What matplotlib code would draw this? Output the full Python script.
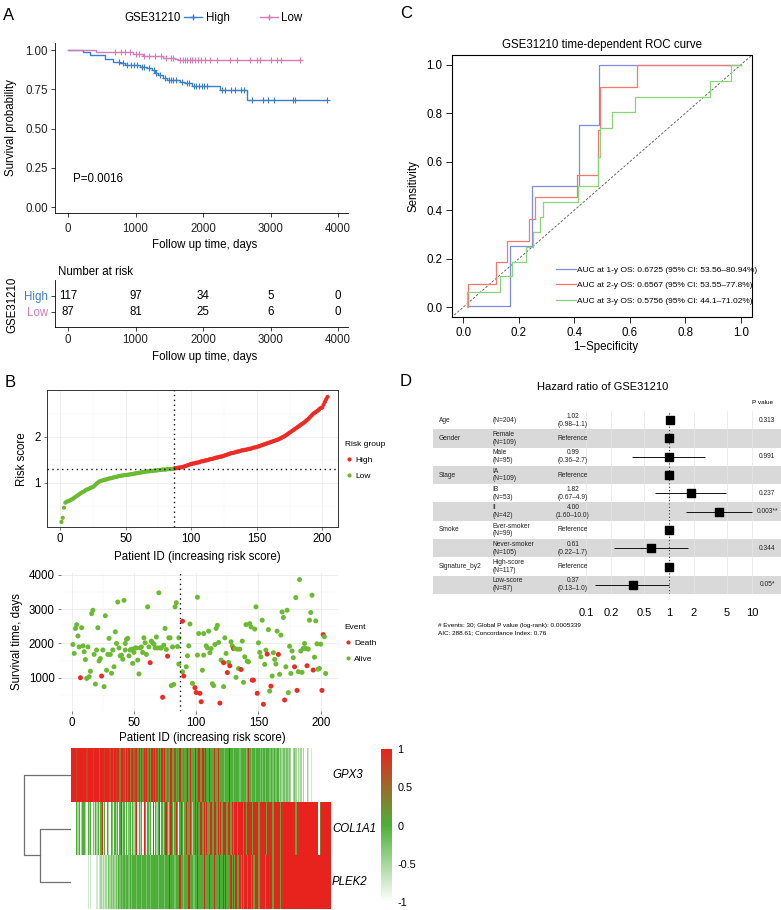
import numpy as np
import matplotlib
matplotlib.use('Agg')
import matplotlib.pyplot as plt
from matplotlib.colors import LinearSegmentedColormap
from matplotlib.lines import Line2D

plt.rcParams['font.family'] = ['Liberation Sans', 'DejaVu Sans']

W, H = 781, 910

# ---------------- A: Kaplan-Meier, GSE31210 ----------------
km_high_t = [0, 220, 320, 545, 670, 765, 840, 1065, 1165, 1240, 1290, 1340, 1410, 1460, 1660, 1735, 1830, 2250, 2650]
km_high_s = [1.0, 0.985, 0.968, 0.94, 0.926, 0.915, 0.904, 0.894, 0.883, 0.872, 0.855, 0.84, 0.823, 0.809, 0.798, 0.787, 0.77, 0.745, 0.685]
km_high_end = 3840
km_high_cens = [760, 820, 880, 940, 980, 1020, 1100, 1130, 1200, 1270, 1310, 1370, 1440, 1500, 1530, 1560, 1600, 1690,
                1760, 1790, 1860, 1900, 1940, 1980, 2020, 2060, 2280, 2330, 2410, 2470, 2560, 2600, 2720, 2890, 2970,
                3050, 3330, 3370, 3840]
km_low_t = [0, 420, 965, 1115, 1410, 1585, 1635]
km_low_s = [1.0, 0.985, 0.972, 0.962, 0.951, 0.94, 0.934]
km_low_end = 3450
km_low_cens = [700, 780, 850, 920, 1000, 1050, 1130, 1200, 1290, 1380, 1450, 1520, 1560, 1660, 1700, 1730, 1770, 1800,
               1840, 1880, 1930, 1970, 2030, 2100, 2200, 2400, 2500, 2700, 2800, 2850, 3000, 3100, 3150, 3440]
risk_times = [0, 1000, 2000, 3000, 4000]
risk_high = [117, 97, 34, 5, 0]
risk_low = [87, 81, 25, 6, 0]

# ---------------- B: risk score / survival / heatmap ----------------
risk_score = [0.15, 0.24, 0.46, 0.57, 0.59, 0.60, 0.61, 0.63, 0.64, 0.66,
              0.68, 0.70, 0.72, 0.74, 0.76, 0.78, 0.80, 0.81, 0.83, 0.85,
              0.86, 0.87, 0.89, 0.90, 0.91, 0.93, 0.96, 0.99, 1.01, 1.03,
              1.04, 1.05, 1.06, 1.07, 1.07, 1.08, 1.09, 1.10, 1.10, 1.11,
              1.12, 1.13, 1.13, 1.14, 1.15, 1.15, 1.16, 1.16, 1.17, 1.17,
              1.17, 1.18, 1.18, 1.19, 1.19, 1.20, 1.20, 1.21, 1.21, 1.22,
              1.22, 1.23, 1.23, 1.24, 1.24, 1.25, 1.25, 1.25, 1.26, 1.26,
              1.26, 1.27, 1.27, 1.27, 1.28, 1.28, 1.28, 1.29, 1.29, 1.29,
              1.29, 1.30, 1.30, 1.30, 1.30, 1.31, 1.31,
              1.32, 1.32, 1.33, 1.33, 1.34, 1.34, 1.35, 1.36, 1.37, 1.38,
              1.39, 1.40, 1.41, 1.42, 1.42, 1.43, 1.44, 1.44, 1.45, 1.46,
              1.47, 1.47, 1.48, 1.49, 1.49, 1.50, 1.51, 1.52, 1.52, 1.53,
              1.54, 1.55, 1.55, 1.56, 1.57, 1.57, 1.58, 1.59, 1.60, 1.61,
              1.62, 1.63, 1.64, 1.65, 1.65, 1.66, 1.67, 1.68, 1.68, 1.69,
              1.70, 1.71, 1.71, 1.72, 1.72, 1.73, 1.74, 1.74, 1.75, 1.76,
              1.77, 1.77, 1.78, 1.79, 1.80, 1.81, 1.82, 1.83, 1.84, 1.85,
              1.86, 1.87, 1.88, 1.89, 1.90, 1.91, 1.92, 1.93, 1.94, 1.95,
              1.97, 1.98, 2.00, 2.01, 2.03, 2.05, 2.07, 2.09, 2.11, 2.13,
              2.15, 2.17, 2.19, 2.21, 2.23, 2.25, 2.27, 2.29, 2.31, 2.33,
              2.36, 2.38, 2.41, 2.44, 2.47, 2.50, 2.52, 2.54, 2.56, 2.58,
              2.61, 2.63, 2.64, 2.70, 2.76, 2.82, 2.87]
n_low = 87

surv_id = [1, 2, 3, 4, 5, 6, 7, 8, 9, 10,
           11, 12, 13, 14, 15, 16, 17, 18, 19, 20,
           21, 22, 23, 24, 25, 26, 27, 28, 29, 30,
           31, 32, 33, 34, 35, 36, 37, 38, 39, 40,
           41, 42, 43, 43, 44, 45, 46, 47, 48, 49,
           50, 51, 52, 53, 54, 55, 56, 57, 58, 59,
           60, 61, 62, 63, 64, 65, 66, 67, 68, 69,
           70, 71, 72, 73, 74, 75, 76, 77, 78, 79,
           80, 81, 82, 83, 84, 85, 86, 86, 89, 89,
           90, 92, 93, 94, 95, 97, 101, 99, 100, 103,
           104, 101, 105, 102, 106, 106, 108, 109, 110, 111,
           112, 113, 114, 115, 116, 117, 118, 119, 120, 122,
           122, 123, 124, 125, 126, 127, 128, 129, 130, 131,
           132, 133, 134, 135, 136, 137, 138, 139, 140, 141,
           142, 143, 144, 145, 146, 147, 148, 149, 150, 151,
           152, 153, 154, 155, 156, 157, 158, 159, 160, 161,
           162, 163, 164, 165, 166, 167, 168, 169, 170, 171,
           172, 173, 174, 175, 176, 177, 178, 179, 180, 181,
           182, 183, 184, 185, 186, 187, 188, 189, 190, 191,
           192, 193, 194, 195, 196, 197, 198, 199, 200, 201,
           202, 203, 204]
surv_time = [1970, 1710, 2440, 2550, 2220, 1900, 1000, 2460, 1930, 1760,
             1530, 980, 1900, 1030, 1190, 2870, 2970, 1680, 815, 1810,
             2460, 1490, 1560, 1050, 1810, 740, 2810, 1220, 1680, 2150,
             1680, 1130, 1810, 1320, 2340, 2000, 3210, 1870, 1640, 1660,
             1540, 3260, 1810, 2000, 2120, 2150, 1640, 1810, 1835, 1420,
             1740, 1870, 1870, 1515, 1110, 1870, 1900, 1740, 2165, 2020,
             1680, 3070, 1900, 1440, 2070, 2020, 1980, 1870, 2190, 1870,
             3480, 1870, 1870, 430, 1950, 2440, 1825, 1630, 2165, 2165,
             770, 1900, 805, 3070, 3190, 1910, 1400, 2165, 2650, 1175,
             1050, 1320, 1640, 1930, 2570, 835, 3350, 710, 570, 545,
             300, 1660, 1220, 2290, 2290, 1660, 1930, 1870, 2360, 1730,
             1850, 825, 770, 1970, 2440, 2530, 2030, 260, 1515, 740,
             1440, 2165, 1710, 1150, 1450, 1350, 2050, 1930, 1850, 1850,
             1010, 1835, 1270, 1835, 1240, 2070, 865, 1610, 2550, 1485,
             1465, 2580, 2485, 930, 930, 2420, 3070, 545, 2020, 1740,
             1610, 2680, 225, 1390, 1805, 1690, 2405, 610, 755, 1050,
             1730, 1535, 1400, 2360, 1680, 1100, 2245, 2920, 2760, 350,
             1320, 2970, 565, 1920, 1125, 1780, 1585, 1320, 3340, 630,
             1175, 3865, 1780, 1155, 1855, 2000, 1855, 1350, 1835, 2680,
             2905, 3410, 1225, 1600, 2660, 1990, 1250, 1270, 1980, 630,
             2260, 2195, 1125]
surv_dead = [0, 0, 0, 0, 0, 0, 1, 0, 0, 0,
             0, 0, 0, 0, 0, 0, 0, 0, 0, 0,
             0, 0, 0, 1, 0, 0, 0, 0, 0, 0,
             0, 0, 0, 0, 0, 0, 0, 0, 0, 0,
             0, 0, 0, 0, 0, 0, 0, 0, 0, 0,
             0, 0, 0, 0, 0, 0, 0, 0, 0, 0,
             0, 0, 0, 1, 0, 0, 0, 0, 0, 0,
             0, 0, 0, 1, 0, 0, 0, 1, 0, 0,
             0, 0, 0, 0, 0, 0, 0, 0, 1, 0,
             1, 0, 0, 0, 0, 0, 0, 1, 1, 1,
             1, 0, 0, 0, 0, 0, 0, 0, 0, 0,
             0, 0, 0, 0, 0, 0, 0, 1, 0, 0,
             1, 0, 0, 1, 0, 1, 0, 0, 1, 0,
             0, 0, 0, 0, 1, 0, 0, 0, 0, 0,
             0, 0, 0, 1, 1, 0, 0, 1, 0, 0,
             0, 0, 1, 0, 0, 1, 0, 0, 1, 0,
             0, 0, 0, 0, 1, 0, 0, 0, 0, 1,
             0, 0, 0, 0, 0, 0, 0, 1, 0, 1,
             0, 0, 0, 0, 0, 0, 0, 1, 0, 0,
             0, 0, 1, 0, 0, 0, 0, 0, 0, 1,
             1, 0, 0]

# expression levels per patient, coded 0..8 -> -1..1
genes = ['GPX3', 'COL1A1', 'PLEK2']
heat_gpx3 = ["8888788888", "8878888788", "8868887888", "7886878858", "8758685786", "7858475868", "5848685748",
             "4858465484", "4745484454", "5848444845", "8448584484", "4484484444", "3444844344", "4434444348",
             "4344344434", "3434433434", "3342323323", "2320232021", "2020021010", "0000000000", "0000"]
heat_col1a1 = ["0000424024", "4204240314", "2404804042", "0430424048", "2404034042", "4804240840", "4240804248",
               "0424842484", "2484048424", "8448424848", "4884848448", "8488484848", "8848848488", "4888848488",
               "8848888488", "8884888848", "8888488888", "8888884888", "8888888888", "8888068888", "8888"]
heat_plek2 = ["0000000000", "0001010000", "1012121213", "2323232434", "3434434344", "4344434443", "4434444434",
              "4443444844", "4344484434", "4484443448", "4444844484", "4484448448", "4844484848", "4484848848",
              "8484888488", "8848888848", "8888488888", "8888888888", "8888888888", "8888888888", "8888"]
dendro_heights = [0.66, 1.0]

# ---------------- C: time-dependent ROC ----------------
roc_x = [[0.015, 0.168, 0.248, 0.418, 0.488, 1.0],
         [0.018, 0.018, 0.12, 0.158, 0.238, 0.258, 0.41, 0.486, 0.493, 0.627, 1.0],
         [0.015, 0.015, 0.132, 0.176, 0.228, 0.25, 0.276, 0.288, 0.414, 0.484, 0.492, 0.537, 0.618, 0.89, 0.963, 0.996]]
roc_y = [[0.005, 0.252, 0.5, 0.75, 1.0, 1.0],
         [0.0, 0.095, 0.185, 0.275, 0.365, 0.455, 0.545, 0.73, 0.91, 1.0, 1.0],
         [0.0, 0.064, 0.129, 0.185, 0.25, 0.311, 0.373, 0.435, 0.5, 0.62, 0.74, 0.805, 0.867, 0.933, 1.0, 1.0]]
roc_labels = ['AUC at 1-y OS: 0.6725 (95% CI: 53.56\u201380.94%)',
              'AUC at 2-y OS: 0.6567 (95% CI: 53.55\u201377.8%)',
              'AUC at 3-y OS: 0.5756 (95% CI: 44.1\u201371.02%)']
roc_colors = ['#7F8BE6', '#F7786F', '#8AD578']

# ---------------- D: forest plot ----------------
fp_var = ['Age', 'Gender', '', 'Stage', '', '', 'Smoke', '', 'Signature_by2', '']
fp_level = ['(N=204)', 'Female\n(N=109)', 'Male\n(N=95)', 'IA\n(N=109)', 'IB\n(N=53)', 'II\n(N=42)',
            'Ever-smoker\n(N=99)', 'Never-smoker\n(N=105)', 'High-score\n(N=117)', 'Low-score\n(N=87)']
fp_hr = [1.02, 1, 0.99, 1, 1.82, 4.00, 1, 0.61, 1, 0.37]
fp_lo = [0.98, np.nan, 0.36, np.nan, 0.67, 1.60, np.nan, 0.22, np.nan, 0.13]
fp_hi = [1.1, np.nan, 2.7, np.nan, 4.9, 10.0, np.nan, 1.7, np.nan, 1.0]
fp_hr_text = ['1.02\n(0.98\u20131.1)', 'Reference', '0.99\n(0.36\u20132.7)', 'Reference', '1.82\n(0.67\u20134.9)',
              '4.00\n(1.60\u201310.0)', 'Reference', '0.61\n(0.22\u20131.7)', 'Reference', '0.37\n(0.13\u20131.0)']
fp_p = ['0.313', '', '0.991', '', '0.237', '0.003**', '', '0.344', '', '0.05*']

c_high = '#3A7FCB'
c_low = '#D47DBA'
c_red = '#EE2A24'
c_green = '#6ABB31'

fig = plt.figure(figsize=(W / 100, H / 100), dpi=100)


def px_ax(l, t, r, b):
    return fig.add_axes([l / W, 1 - b / H, (r - l) / W, (b - t) / H])


def px_text(x, y, s, **kw):
    kw.setdefault('ha', 'center')
    kw.setdefault('va', 'center')
    return fig.text(x / W, 1 - y / H, s, **kw)


def classic(ax, fs=8.3):
    for sp in ['top', 'right']:
        ax.spines[sp].set_visible(False)
    for sp in ['left', 'bottom']:
        ax.spines[sp].set_linewidth(0.6)
    ax.tick_params(length=3, width=0.6, labelsize=fs, pad=2, colors='#222222')


def gg_grid(ax):
    ax.set_axisbelow(True)
    ax.grid(which='major', color='#EBEBEB', lw=0.6)
    ax.grid(which='minor', color='#F4F4F4', lw=0.35)
    ax.tick_params(which='minor', length=0)
    ax.tick_params(which='major', length=2.5, width=0.5, color='#444444', labelsize=8.3, pad=2)


# ---- panel letters
px_text(3, 16, 'A', ha='left', fontsize=12)
px_text(5, 382, 'B', ha='left', fontsize=12)
px_text(400, 14, 'C', ha='left', fontsize=12)
px_text(400, 381, 'D', ha='left', fontsize=12)

# ================= A =================
ax = px_ax(55, 43, 348, 213)
for t, s, end, cens, col in [(km_high_t, km_high_s, km_high_end, km_high_cens, c_high),
                             (km_low_t, km_low_s, km_low_end, km_low_cens, c_low)]:
    ax.step(list(t) + [end], list(s) + [s[-1]], where='post', color=col, lw=1.0)
    idx = np.searchsorted(t, cens, side='right') - 1
    ax.plot(cens, np.array(s)[idx], ls='', marker='+', ms=4.5, mew=0.8, color=col)
ax.set_xlim(-193, 4148)
ax.set_ylim(-0.038, 1.045)
ax.set_xticks(risk_times)
ax.set_yticks([0, 0.25, 0.5, 0.75, 1.0])
ax.set_yticklabels(['0.00', '0.25', '0.50', '0.75', '1.00'])
classic(ax)
ax.tick_params(axis='x', pad=4)
ax.text(75, 0.18, 'P=0.0016', va='center', fontsize=8.3)
px_text(11, 128, 'Survival probability', rotation=90, fontsize=8.3)
px_text(205, 245, 'Follow up time, days', fontsize=8.3)
px_text(124, 18, 'GSE31210', ha='left', fontsize=8.3)
handles = [Line2D([], [], color=c_high, marker='+', ms=5, lw=1.0),
           Line2D([], [], color=c_low, marker='+', ms=5, lw=1.0)]
fig.legend(handles, ['High', 'Low'], ncol=2, loc='center left', bbox_to_anchor=(178 / W, 1 - 18 / H),
           frameon=False, fontsize=8.3, handlelength=1.6, handletextpad=0.3, columnspacing=2.6, borderpad=0)

axt = px_ax(55, 280, 348, 327)
for x, n in zip(risk_times, risk_high):
    axt.text(x, 2, str(n), ha='center', va='center', fontsize=8.3)
for x, n in zip(risk_times, risk_low):
    axt.text(x, 1, str(n), ha='center', va='center', fontsize=8.3)
axt.set_xlim(-193, 4148)
axt.set_ylim(0.06, 3.0)
axt.set_xticks(risk_times)
axt.set_yticks([2, 1])
axt.set_yticklabels(['High', 'Low'])
classic(axt)
for lab, col in zip(axt.get_yticklabels(), [c_high, c_low]):
    lab.set_color(col)
px_text(58, 272, 'Number at risk', ha='left', fontsize=8.3)
px_text(205, 357, 'Follow up time, days', fontsize=8.3)
px_text(12, 305, 'GSE31210', rotation=90, fontsize=8.3)

# ================= B =================
ids = np.arange(1, len(risk_score) + 1)
grp_col = [c_green if i <= n_low else c_red for i in ids]
axr = px_ax(47, 390, 338, 527)
axr.scatter(ids, risk_score, c=grp_col, s=9, lw=0, zorder=3)
axr.axvline(n_low, ls=(0, (1, 2.5)), color='#111111', lw=1.0, zorder=4)
axr.axhline(risk_score[n_low - 1], ls=(0, (1, 2.5)), color='#111111', lw=1.0, zorder=4)
axr.set_xlim(-10, 212)
axr.set_ylim(0.04, 3.02)
axr.set_xticks([0, 50, 100, 150, 200])
axr.set_xticks([25, 75, 125, 175], minor=True)
axr.set_yticks([1, 2])
axr.set_yticks([0.5, 1.5, 2.5], minor=True)
gg_grid(axr)
for sp in axr.spines.values():
    sp.set_color('#333333')
    sp.set_linewidth(0.7)
px_text(22, 459, 'Risk score', rotation=90, fontsize=8.3)
px_text(197, 557, 'Patient ID (increasing risk score)', fontsize=8.3)
rg_handles = [Line2D([], [], ls='', marker='o', ms=3, color=c_red, mew=0),
              Line2D([], [], ls='', marker='o', ms=3, color=c_green, mew=0)]
axr.legend(rg_handles, ['High', 'Low'], title='Risk group', loc='upper left',
           bbox_to_anchor=(341 / W, 1 - 437 / H), bbox_transform=fig.transFigure, frameon=False,
           fontsize=6, title_fontsize=6, handlelength=1.0, handletextpad=0.2, labelspacing=0.95,
           borderpad=0, alignment='left')

axs = px_ax(61, 573, 338, 711)
ev_col = [c_red if d else c_green for d in surv_dead]
axs.scatter(surv_id, surv_time, c=ev_col, s=13, lw=0, zorder=3)
axs.axvline(n_low, ls=(0, (1, 2.5)), color='#111111', lw=1.0, zorder=4)
axs.set_xlim(-8.6, 213.9)
axs.set_ylim(29, 4058)
axs.set_xticks([0, 50, 100, 150, 200])
axs.set_xticks([25, 75, 125, 175], minor=True)
axs.set_yticks([1000, 2000, 3000, 4000])
axs.set_yticks([500, 1500, 2500, 3500], minor=True)
gg_grid(axs)
for sp in axs.spines.values():
    sp.set_visible(False)
px_text(17, 642, 'Survival time, days', rotation=90, fontsize=8.3)
px_text(202, 738, 'Patient ID (increasing risk score)', fontsize=8.3)
ev_handles = [Line2D([], [], ls='', marker='o', ms=3, color=c_red, mew=0),
              Line2D([], [], ls='', marker='o', ms=3, color=c_green, mew=0)]
axs.legend(ev_handles, ['Death', 'Alive'], title='Event', loc='upper left',
           bbox_to_anchor=(340 / W, 1 - 620 / H), bbox_transform=fig.transFigure, frameon=False,
           fontsize=6, title_fontsize=6, handlelength=1.0, handletextpad=0.2, labelspacing=0.95,
           borderpad=0, alignment='left')

# heatmap
heat_rows = [heat_gpx3, heat_col1a1, heat_plek2]
mat = np.array([[int(c) for c in ''.join(r)] for r in heat_rows]) * 0.25 - 1
cmap = LinearSegmentedColormap.from_list('wgr', ['#FFFFFF', '#4DB038', '#E8231E'])
axh = px_ax(71, 748, 331, 909)
im = axh.imshow(mat, aspect='auto', cmap=cmap, vmin=-1, vmax=1, interpolation='nearest')
axh.axis('off')
for i, g in enumerate(genes):
    axh.text(1.004, i, g, transform=axh.get_yaxis_transform(), ha='left', va='center',
             fontsize=8.3, style='italic')

axd = px_ax(20, 748, 71, 909)
h1, h2 = dendro_heights
dcol = '#707070'
axd.plot([0, h1, h1, 0], [1, 1, 2, 2], color=dcol, lw=0.9)
axd.plot([0, h2, h2, h1], [0, 0, 1.5, 1.5], color=dcol, lw=0.9)
axd.set_xlim(h2 * 51 / 47, 0)
axd.set_ylim(2.5, -0.5)
axd.axis('off')

cax = px_ax(381, 749, 392, 902)
cb = fig.colorbar(im, cax=cax)
cb.outline.set_visible(False)
cb.set_ticks([-1, -0.5, 0, 0.5, 1])
cb.set_ticklabels(['-1', '-0.5', '0', '0.5', '1'])
cax.tick_params(length=0, labelsize=7.8, pad=4)

# ================= C =================
axc = px_ax(452, 55, 752, 317)
axc.plot([-0.1, 1.1], [-0.1, 1.1], ls=(0, (3, 2)), color='#555555', lw=0.6)
for xs, ys, col, lab in zip(roc_x, roc_y, roc_colors, roc_labels):
    axc.step(xs, ys, where='post', color=col, lw=0.9, label=lab)
axc.set_xlim(-0.04, 1.04)
axc.set_ylim(-0.04, 1.04)
axc.set_xticks([0, 0.2, 0.4, 0.6, 0.8, 1.0])
axc.set_yticks([0, 0.2, 0.4, 0.6, 0.8, 1.0])
axc.set_xticklabels(['0.0', '0.2', '0.4', '0.6', '0.8', '1.0'])
axc.set_yticklabels(['0.0', '0.2', '0.4', '0.6', '0.8', '1.0'])
axc.tick_params(length=4, width=0.6, labelsize=8.3, pad=3)
for sp in axc.spines.values():
    sp.set_linewidth(0.8)
axc.legend(loc='upper left', bbox_to_anchor=(552 / W, 1 - 262 / H), bbox_transform=fig.transFigure,
           frameon=False, fontsize=6, handlelength=2.4, handletextpad=0.15, labelspacing=0.9, borderpad=0)
px_text(602, 45, 'GSE31210 time-dependent ROC curve', fontsize=8.3)
px_text(606, 347, '1\u2212Specificity', fontsize=8.3)
px_text(413, 186, 'Sensitivity', rotation=90, fontsize=8.3)

# ================= D =================
rows = np.arange(len(fp_hr))
axb = px_ax(433, 411, 781, 594)
for i in rows[1::2]:
    axb.axhspan(i - 0.5, i + 0.5, color='#D9D9D9', lw=0)
axb.set_xlim(0, 1)
axb.set_ylim(9.5, -0.5)
axb.axis('off')

axf = px_ax(575, 411, 760, 594)
axf.set_facecolor('none')
axf.set_xscale('log')
axf.set_xlim(0.0737, 12.48)
axf.set_ylim(9.5, -0.5)
axf.set_xticks([0.1, 0.2, 0.5, 1, 2, 5, 10])
axf.set_xticklabels(['0.1', '0.2', '0.5', '1', '2', '5', '10'])
axf.minorticks_off()
axf.set_yticks([])
axf.tick_params(axis='x', length=0, labelsize=8, pad=10)
axf.grid(axis='x', color='#E6E6E6', lw=0.5)
for sp in axf.spines.values():
    sp.set_visible(False)
axf.axvline(1, ls=(0, (1, 2)), color='#333333', lw=0.8)
axf.hlines(rows, fp_lo, fp_hi, color='#111111', lw=0.7)
axf.scatter(fp_hr, rows, marker='s', s=34, color='black', zorder=3)

# table text on top of everything
axtx = px_ax(433, 411, 781, 594)
axtx.set_xlim(0, 1)
axtx.set_ylim(9.5, -0.5)
axtx.axis('off')
tr = axtx.get_yaxis_transform()
for i in rows:
    axtx.text(0.017, i, fp_var[i], transform=tr, ha='left', va='center', fontsize=4.8, color='#222222')
    axtx.text(0.170, i, fp_level[i], transform=tr, ha='left', va='center', fontsize=4.8,
              linespacing=1.15, color='#222222')
    axtx.text(0.402, i, fp_hr_text[i], transform=tr, ha='center', va='center', fontsize=4.8,
              linespacing=1.15, color='#222222')
    axtx.text(0.960, i, fp_p[i], transform=tr, ha='center', va='center', fontsize=4.8, color='#222222')

px_text(603, 387, 'Hazard ratio of GSE31210', fontsize=8)
px_text(763, 402, 'P value', fontsize=4.6)
px_text(438, 625, '# Events: 30; Global P value (log-rank): 0.0005339', ha='left', fontsize=4.6)
px_text(438, 633, 'AIC: 288.61; Concordance Index: 0.76', ha='left', fontsize=4.6)

fig.savefig('out.png', dpi=100)
